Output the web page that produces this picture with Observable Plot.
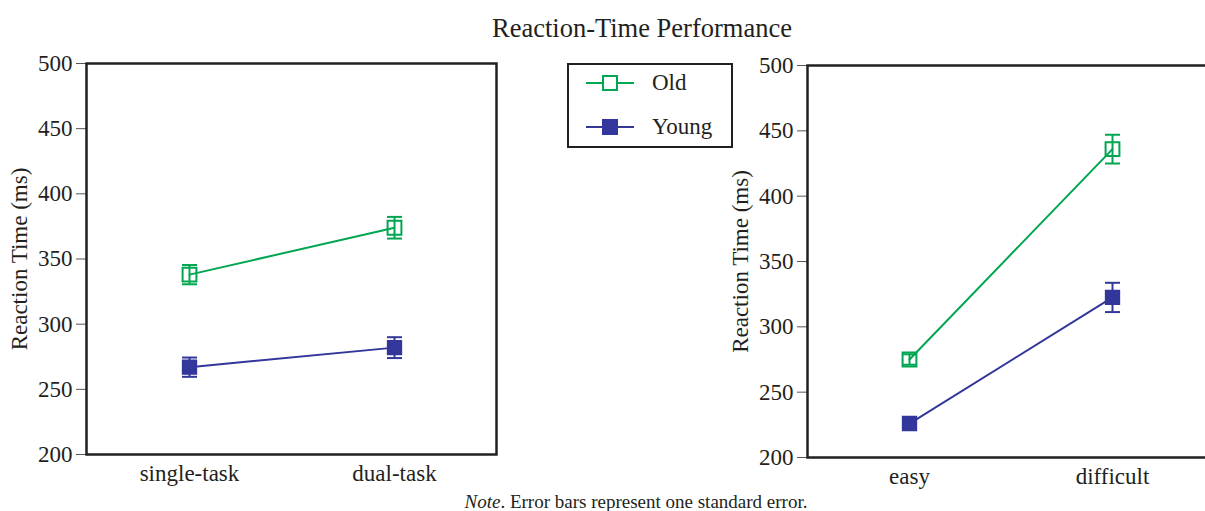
<!DOCTYPE html>
<html>
<head>
<meta charset="utf-8">
<script src="https://cdn.jsdelivr.net/npm/d3@7"></script>
<script src="https://cdn.jsdelivr.net/npm/@observablehq/plot@0.6"></script>
<style>
  html, body { margin: 0; padding: 0; background: #fff; overflow: hidden; }
  #wrap { position: relative; width: 1205px; height: 511px; overflow: hidden; font-family: "Liberation Serif", "Times New Roman", serif; color: #231f20; }
  .abs { position: absolute; }
  #wrap svg { max-width: none !important; }
  #title { left: 642px; top: 13px; transform: translateX(-50%); font-size: 26.5px; line-height: 30px; white-space: nowrap; }
  #note { left: 636px; top: 491px; transform: translateX(-50%); font-size: 19px; line-height: 22px; white-space: nowrap; }
  #legend { left: 567px; top: 63px; width: 162px; height: 81px; border: 2px solid #231f20; }
  .lrow { position: absolute; left: 0; height: 30px; display: flex; align-items: center; }
  .lrow span { font-size: 23px; margin-left: 17px; }
  svg text { fill: #231f20; }
</style>
</head>
<body>
<div id="wrap">
  <div id="title" class="abs">Reaction-Time Performance</div>
  <div id="left" class="abs" style="left:0;top:0;width:520px"></div>
  <div id="right" class="abs" style="left:720px;top:0;width:500px"></div>
  <div id="legend" class="abs"></div>
  <div id="note" class="abs"><i>Note</i>. Error bars represent one standard error.</div>
</div>
<script>
// ---- data ----
const groups = ["Old", "Young"];
const groupColors = ["#00a651", "#33369a"];

const taskConditions = ["single-task", "dual-task"];
const taskOld = [338, 374];
const taskOldSE = [7.4, 8.3];
const taskYoung = [267, 282];
const taskYoungSE = [7.4, 8];

const diffConditions = ["easy", "difficult"];
const diffOld = [275, 436];
const diffOldSE = [4, 11];
const diffYoung = [226, 322.5];
const diffYoungSE = [3, 11.2];

const yTicks = [200, 250, 300, 350, 400, 450, 500];
const yLabel = "Reaction Time (ms)";

// ---- helpers ----
function rows(conds, oldV, oldSE, youngV, youngSE) {
  const out = [];
  conds.forEach((c, i) => {
    out.push({cond: c, group: "Old", v: oldV[i], se: oldSE[i]});
    out.push({cond: c, group: "Young", v: youngV[i], se: youngSE[i]});
  });
  return out;
}

const capSymbol = {
  draw(context, size) {
    const w = Math.sqrt(size / Math.PI);
    context.moveTo(-w, 0);
    context.lineTo(w, 0);
  }
};

function panel(conds, data, opts) {
  const color = {domain: groups, range: groupColors};
  return Plot.plot({
    width: opts.width,
    height: opts.height,
    marginLeft: opts.marginLeft,
    marginTop: opts.marginTop,
    marginBottom: opts.marginBottom,
    marginRight: opts.marginRight,
    style: {fontFamily: '"Liberation Serif", "Times New Roman", serif', fontSize: "23px", color: "#231f20", background: "transparent", maxWidth: "none"},
    x: {type: "point", domain: conds, padding: 0.5},
    y: {domain: [200, 500]},
    color,
    marks: [
      Plot.axisY({ticks: yTicks, tickSize: 10, tickPadding: 4, stroke: "#555", strokeWidth: 1, fontSize: 23,
        label: yLabel, labelAnchor: "center", labelArrow: "none", labelOffset: 76}),
      Plot.axisX({tickSize: 0, tickPadding: 10, fontSize: 23, label: null}),
      Plot.line(data, {x: "cond", y: "v", z: "group", stroke: "group", strokeWidth: 2}),
      Plot.ruleX(data, {x: "cond", y1: d => d.v - d.se, y2: d => d.v + d.se, stroke: "group", strokeWidth: 2}),
      Plot.dot(data, {x: "cond", y: d => d.v - d.se, symbol: capSymbol, r: 7.5, stroke: "group", strokeWidth: 2}),
      Plot.dot(data, {x: "cond", y: d => d.v + d.se, symbol: capSymbol, r: 7.5, stroke: "group", strokeWidth: 2}),
      Plot.dot(data.filter(d => d.group === "Old"), {x: "cond", y: "v", symbol: "square", r: 7.8, stroke: "group", strokeWidth: 2, fill: "none"}),
      Plot.dot(data.filter(d => d.group === "Young"), {x: "cond", y: "v", symbol: "square", r: 7.8, stroke: "group", strokeWidth: 1.5, fill: "group"}),
      Plot.frame({stroke: "#231f20", strokeWidth: 2.5})
    ]
  });
}

document.getElementById("left").append(
  panel(taskConditions, rows(taskConditions, taskOld, taskOldSE, taskYoung, taskYoungSE),
    {width: 520, height: 490, marginLeft: 86, marginTop: 63, marginBottom: 36, marginRight: 24})
);
document.getElementById("right").append(
  panel(diffConditions, rows(diffConditions, diffOld, diffOldSE, diffYoung, diffYoungSE),
    {width: 500, height: 493, marginLeft: 87, marginTop: 65, marginBottom: 36, marginRight: 7})
);

// ---- legend ----
const legend = d3.select("#legend");
groups.forEach((g, i) => {
  const row = legend.append("div").attr("class", "lrow").style("top", (i === 0 ? 3 : 47) + "px").style("left", "16px");
  const svg = row.append("svg").attr("width", 50).attr("height", 20);
  svg.append("line").attr("x1", 1).attr("x2", 49).attr("y1", 10).attr("y2", 10)
    .attr("stroke", groupColors[i]).attr("stroke-width", 2);
  svg.append("rect").attr("x", 18).attr("y", 3).attr("width", 14).attr("height", 14)
    .attr("stroke", groupColors[i]).attr("stroke-width", 2)
    .attr("fill", i === 0 ? "#fff" : groupColors[i]);
  row.append("span").text(g);
});
</script>
</body>
</html>
